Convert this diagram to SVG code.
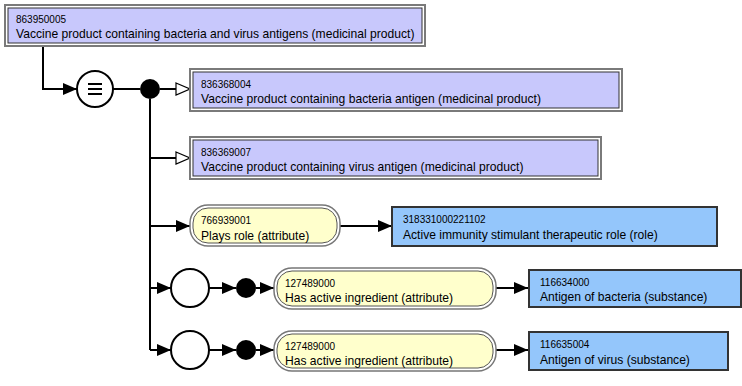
<svg xmlns="http://www.w3.org/2000/svg" width="742" height="386" viewBox="0 0 742 386">
  <style>
    .id { font-family: "Liberation Sans", Arial, sans-serif; font-size: 10px; fill: #000; }
    .lbl { font-family: "Liberation Sans", Arial, sans-serif; font-size: 12.1px; fill: #000; }
    .defOuter { fill: #ffffff; stroke: #7a7a7a; stroke-width: 2; }
    .defInner { fill: #c8c8fc; stroke: #333333; stroke-width: 1; }
    .attrOuter { fill: #ffffff; stroke: #777777; stroke-width: 1.5; }
    .attrInner { fill: #ffffcc; stroke: #555555; stroke-width: 1; }
    .prim { fill: #94c6fb; stroke: #333333; stroke-width: 2; }
    .line { fill: none; stroke: #000; stroke-width: 2; }
    .dot { fill: #000; }
    .circ { fill: #fff; stroke: #000; stroke-width: 2; }
  </style>
  <defs>
    <marker id="arrowFilled" markerUnits="userSpaceOnUse" markerWidth="15" markerHeight="13" refX="14" refY="6.5" orient="auto">
      <path d="M0,0.5 L14,6.5 L0,12.5 z" fill="#000"/>
    </marker>
    <marker id="arrowOpen" markerUnits="userSpaceOnUse" markerWidth="16" markerHeight="14" refX="15" refY="7" orient="auto">
      <path d="M1,1 L15,7 L1,13 z" fill="#fff" stroke="#000" stroke-width="1.2"/>
    </marker>
  </defs>

  <!-- connectors -->
  <g id="connectors">
    <path class="line" d="M43,46 V89 H77" marker-end="url(#arrowFilled)"/>
    <path class="line" d="M113,89 H140"/>
    <path class="line" d="M160,89 H190" marker-end="url(#arrowOpen)"/>
    <path class="line" d="M150,99 V350"/>
    <path class="line" d="M150,158 H190" marker-end="url(#arrowOpen)"/>
    <path class="line" d="M150,226 H190" marker-end="url(#arrowFilled)"/>
    <path class="line" d="M340,226 H392" marker-end="url(#arrowFilled)"/>
    <path class="line" d="M150,288 H171" marker-end="url(#arrowFilled)"/>
    <path class="line" d="M209,288 H236" marker-end="url(#arrowFilled)"/>
    <path class="line" d="M256,288 H274" marker-end="url(#arrowFilled)"/>
    <path class="line" d="M496,288 H528" marker-end="url(#arrowFilled)"/>
    <path class="line" d="M150,350 H171" marker-end="url(#arrowFilled)"/>
    <path class="line" d="M209,350 H236" marker-end="url(#arrowFilled)"/>
    <path class="line" d="M256,350 H274" marker-end="url(#arrowFilled)"/>
    <path class="line" d="M496,350 H528" marker-end="url(#arrowFilled)"/>
  </g>

  <!-- focus concept -->
  <g id="concept-863950005">
    <rect class="defOuter" x="5" y="5" width="420" height="41"/>
    <rect class="defInner" x="8" y="8" width="414" height="35"/>
    <text class="id" x="16" y="23">863950005</text>
    <text class="lbl" x="16" y="38">Vaccine product containing bacteria and virus antigens (medicinal product)</text>
  </g>

  <!-- definition status: equivalent -->
  <g id="equivalence">
    <circle class="circ" cx="95" cy="89" r="18"/>
    <path d="M88,84 H102 M88,89 H102 M88,94 H102" stroke="#000" stroke-width="2"/>
  </g>
  <g id="conjunction-main">
    <circle class="dot" cx="150" cy="89" r="10"/>
  </g>

  <!-- parents -->
  <g id="concept-836368004">
    <rect class="defOuter" x="190" y="69" width="432" height="42"/>
    <rect class="defInner" x="193" y="72" width="426" height="36"/>
    <text class="id" x="201" y="88">836368004</text>
    <text class="lbl" x="201" y="103">Vaccine product containing bacteria antigen (medicinal product)</text>
  </g>
  <g id="concept-836369007">
    <rect class="defOuter" x="190" y="137" width="411" height="42"/>
    <rect class="defInner" x="193" y="140" width="405" height="36"/>
    <text class="id" x="201" y="156">836369007</text>
    <text class="lbl" x="201" y="171">Vaccine product containing virus antigen (medicinal product)</text>
  </g>

  <!-- ungrouped attribute -->
  <g id="attr-766939001">
    <rect class="attrOuter" x="190" y="205" width="150" height="41" rx="18" ry="18"/>
    <rect class="attrInner" x="193" y="208" width="144" height="35" rx="15" ry="15"/>
    <text class="id" x="201" y="224">766939001</text>
    <text class="lbl" x="201" y="240">Plays role (attribute)</text>
  </g>
  <g id="value-318331000221102">
    <rect class="prim" x="392" y="207" width="325" height="39"/>
    <text class="id" x="403" y="223">318331000221102</text>
    <text class="lbl" x="403" y="239">Active immunity stimulant therapeutic role (role)</text>
  </g>

  <!-- role group 1 -->
  <g id="group-1">
    <circle class="circ" cx="190" cy="288" r="19"/>
    <circle class="dot" cx="246" cy="288" r="10"/>
  </g>
  <g id="attr-127489000-a">
    <rect class="attrOuter" x="274" y="268" width="222" height="41" rx="18" ry="18"/>
    <rect class="attrInner" x="277" y="271" width="216" height="35" rx="15" ry="15"/>
    <text class="id" x="285" y="287">127489000</text>
    <text class="lbl" x="285" y="302">Has active ingredient (attribute)</text>
  </g>
  <g id="value-116634000">
    <rect class="prim" x="529" y="270" width="212" height="37"/>
    <text class="id" x="540" y="286">116634000</text>
    <text class="lbl" x="540" y="301">Antigen of bacteria (substance)</text>
  </g>

  <!-- role group 2 -->
  <g id="group-2">
    <circle class="circ" cx="190" cy="350" r="19"/>
    <circle class="dot" cx="246" cy="350" r="10"/>
  </g>
  <g id="attr-127489000-b">
    <rect class="attrOuter" x="274" y="331" width="222" height="40" rx="18" ry="18"/>
    <rect class="attrInner" x="277" y="334" width="216" height="34" rx="15" ry="15"/>
    <text class="id" x="285" y="350">127489000</text>
    <text class="lbl" x="285" y="365">Has active ingredient (attribute)</text>
  </g>
  <g id="value-116635004">
    <rect class="prim" x="529" y="332" width="199" height="38"/>
    <text class="id" x="540" y="348">116635004</text>
    <text class="lbl" x="540" y="364">Antigen of virus (substance)</text>
  </g>
</svg>
